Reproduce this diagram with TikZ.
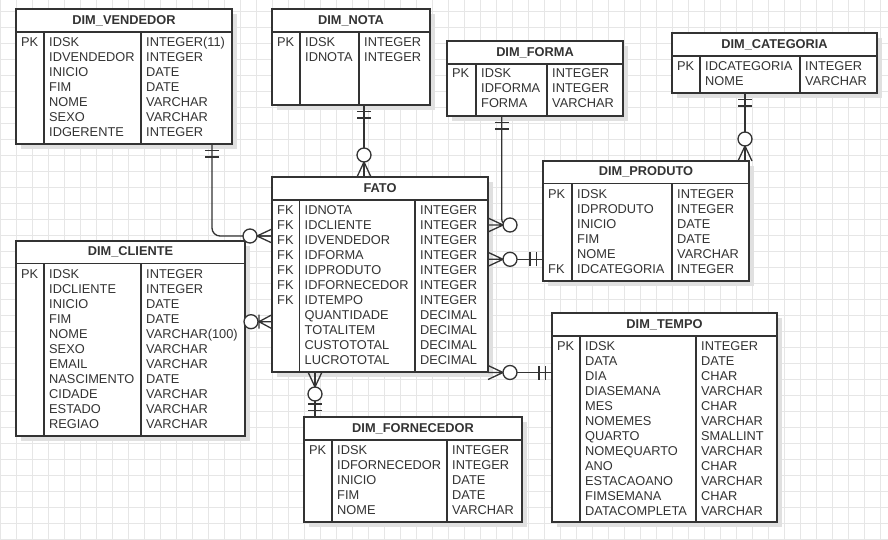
\documentclass[tikz,border=0pt]{standalone}
\usepackage{fontspec}
\setmainfont{Liberation Sans}
\usetikzlibrary{shadows,calc}

\definecolor{ink}{HTML}{333333}
\definecolor{gridc}{HTML}{E6E6E6}
\definecolor{shadowc}{HTML}{E0E0E0}

\tikzset{
  tblbox/.style={rectangle, draw=ink, line width=1.3pt, fill=white,
    inner sep=0pt, outer sep=0pt,
    drop shadow={shadow xshift=5pt, shadow yshift=-5pt, fill=shadowc, opacity=1}},
  tblline/.style={draw=ink, line width=1.3pt},
  titletext/.style={inner sep=0pt, text=ink, font=\fontsize{12.8}{15}\selectfont\bfseries},
  celltext/.style={anchor=base west, inner sep=0pt, text=ink, font=\fontsize{12.8}{15}\selectfont},
  conn/.style={draw=ink, line width=1.3pt},
  gridline/.style={draw=gridc, line width=0.8pt},
}

% table frame: name, left, top, right, bottom, header line y, first and second column x, title
\newcommand{\ertable}[9]{%
  \node[tblbox, anchor=north west, minimum width={(#4-#2)*1pt},
        minimum height={(#5-#3)*1pt}] (#1) at (#2,#3) {};
  \draw[tblline] (#2,#6) -- (#4,#6) (#7,#6) -- (#7,#5) (#8,#6) -- (#8,#5);
  \node[titletext] (#1-title) at ({(#2+#4)/2},{(#3+#6)/2}) {#9};
}
% one column of rows: name prefix, x, first baseline y, entries
\newcommand{\ercol}[4]{%
  \foreach \t [count=\i] in {#4} {
    \node[celltext] (#1-\i) at ({#2},{#3+15*(\i-1)}) {\t};
  }
}
% crow's foot with ring at a box point, pointing outward at the given angle
\newcommand{\manyend}[2]{%
  \begin{scope}[shift={#1}, rotate=#2]
    \draw[conn] (15,0) -- (0,7) (15,0) -- (0,-7) (15,0) -- (0,0);
    \draw[conn, fill=white] (22,0) circle[radius=7pt];
  \end{scope}
}
% two bars (exactly one) at a box point
\newcommand{\oneend}[2]{%
  \begin{scope}[shift={#1}, rotate=#2]
    \draw[conn] (6.5,-7) -- (6.5,7) (13,-7) -- (13,7);
  \end{scope}
}

\begin{document}
\begin{tikzpicture}[x=1pt, y=-1pt]
  \useasboundingbox (0,0) rectangle (888,540);
  \fill[white] (0,0) rectangle (888,540);

  % background grid
  \foreach \gx in {0.7,16.7,...,888} \draw[gridline] (\gx,0) -- (\gx,540);
  \foreach \gy in {11,27,...,540} \draw[gridline] (0,\gy) -- (888,\gy);

  % DIM_VENDEDOR
  \ertable{vend}{16}{9}{232}{144}{32}{44}{141}{DIM\_VENDEDOR}
  \node[celltext] (vend-pk) at (21,47) {PK};
  \ercol{vend-f}{49}{47}{IDSK,IDVENDEDOR,INICIO,FIM,NOME,SEXO,IDGERENTE}
  \ercol{vend-t}{146}{47}{INTEGER(11),INTEGER,DATE,DATE,VARCHAR,VARCHAR,INTEGER}

  % DIM_NOTA
  \ertable{nota}{272}{9}{430}{105}{32}{300}{359}{DIM\_NOTA}
  \node[celltext] (nota-pk) at (277,47) {PK};
  \ercol{nota-f}{305}{47}{IDSK,IDNOTA}
  \ercol{nota-t}{364}{47}{INTEGER,INTEGER}

  % DIM_FORMA
  \ertable{forma}{447}{41}{623}{116}{64}{476}{547}{DIM\_FORMA}
  \node[celltext] (forma-pk) at (452,78) {PK};
  \ercol{forma-f}{481}{78}{IDSK,IDFORMA,FORMA}
  \ercol{forma-t}{552}{78}{INTEGER,INTEGER,VARCHAR}

  % DIM_CATEGORIA
  \ertable{cat}{672}{33}{877}{93}{56}{700}{800}{DIM\_CATEGORIA}
  \node[celltext] (cat-pk) at (677,71) {PK};
  \ercol{cat-f}{705}{71}{IDCATEGORIA,NOME}
  \ercol{cat-t}{805}{71}{INTEGER,VARCHAR}

  % DIM_PRODUTO
  \ertable{prod}{543}{161}{749}{281}{183.5}{572}{672}{DIM\_PRODUTO}
  \node[celltext] (prod-pk) at (548,198.5) {PK};
  \node[celltext] (prod-fk) at (548,273.5) {FK};
  \ercol{prod-f}{577}{198.5}{IDSK,IDPRODUTO,INICIO,FIM,NOME,IDCATEGORIA}
  \ercol{prod-t}{677}{198.5}{INTEGER,INTEGER,DATE,DATE,VARCHAR,INTEGER}

  % FATO
  \ertable{fato}{272}{177}{488}{372}{200}{299.5}{415}{FATO}
  \ercol{fato-k}{277}{214.8}{FK,FK,FK,FK,FK,FK,FK}
  \ercol{fato-f}{304.5}{214.8}{IDNOTA,IDCLIENTE,IDVENDEDOR,IDFORMA,IDPRODUTO,IDFORNECEDOR,IDTEMPO,QUANTIDADE,TOTALITEM,CUSTOTOTAL,LUCROTOTAL}
  \ercol{fato-t}{420}{214.8}{INTEGER,INTEGER,INTEGER,INTEGER,INTEGER,INTEGER,INTEGER,DECIMAL,DECIMAL,DECIMAL,DECIMAL}

  % DIM_CLIENTE
  \ertable{cli}{16}{241}{245}{436}{263.5}{44}{141}{DIM\_CLIENTE}
  \node[celltext] (cli-pk) at (21,278.8) {PK};
  \ercol{cli-f}{49}{278.8}{IDSK,IDCLIENTE,INICIO,FIM,NOME,SEXO,EMAIL,NASCIMENTO,CIDADE,ESTADO,REGIAO}
  \ercol{cli-t}{146}{278.8}{INTEGER,INTEGER,DATE,DATE,VARCHAR(100),VARCHAR,VARCHAR,DATE,VARCHAR,VARCHAR,VARCHAR}

  % DIM_FORNECEDOR
  \ertable{forn}{304}{417}{522}{522}{440}{332}{447}{DIM\_FORNECEDOR}
  \node[celltext] (forn-pk) at (309,454.8) {PK};
  \ercol{forn-f}{337}{454.8}{IDSK,IDFORNECEDOR,INICIO,FIM,NOME}
  \ercol{forn-t}{452}{454.8}{INTEGER,INTEGER,DATE,DATE,VARCHAR}

  % DIM_TEMPO
  \ertable{tempo}{552}{313}{777}{522}{336}{580}{696}{DIM\_TEMPO}
  \node[celltext] (tempo-pk) at (557,350.8) {PK};
  \ercol{tempo-f}{585}{350.8}{IDSK,DATA,DIA,DIASEMANA,MES,NOMEMES,QUARTO,NOMEQUARTO,ANO,ESTACAOANO,FIMSEMANA,DATACOMPLETA}
  \ercol{tempo-t}{701}{350.8}{INTEGER,DATE,CHAR,VARCHAR,CHAR,VARCHAR,SMALLINT,VARCHAR,CHAR,VARCHAR,CHAR,VARCHAR}

  % relationships
  \draw[conn, rounded corners=8pt] (vend.south -| 212,0) |- (fato.west |- 0,236);
  \draw[conn] (cli.east |- 0,321.7) -- (fato.west |- 0,321.7);
  \draw[conn] (nota.south -| 364,0) -- (fato.north -| 364,0);
  \draw[conn, rounded corners=6pt] (forma.south -| 501.7,0) |- ($(fato.east |- 0,225)+(22,0)$);
  \draw[conn] (fato.east |- 0,259.3) -- (prod.west |- 0,259.3);
  \draw[conn] (cat.south -| 745,0) -- (prod.north -| 745,0);
  \draw[conn] (fato.east |- 0,372.5) -- (tempo.west |- 0,372.5);
  \draw[conn] (fato.south -| 315,0) -- (forn.north -| 315,0);

  % relationship ends
  \manyend{(fato.west |- 0,236)}{180}
  \oneend{(vend.south -| 212,0)}{-90}
  \begin{scope}[shift={(fato.west |- 0,321.7)}, rotate=180]
    \draw[conn] (13,0) -- (0,7) (13,0) -- (0,-7) (13,0) -- (0,0) (13,-7) -- (13,7);
    \draw[conn, fill=white] (21,0) circle[radius=7pt];
  \end{scope}
  \manyend{(fato.north -| 364,0)}{90}
  \oneend{(nota.south -| 364,0)}{-90}
  \manyend{(fato.east |- 0,225)}{0}
  \oneend{(forma.south -| 501.7,0)}{-90}
  \manyend{(fato.east |- 0,259.3)}{0}
  \oneend{(prod.west |- 0,259.3)}{180}
  \manyend{(prod.north -| 745,0)}{90}
  \oneend{(cat.south -| 745,0)}{-90}
  \manyend{(fato.east |- 0,372.5)}{0}
  \oneend{(tempo.west |- 0,372.5)}{180}
  \manyend{(fato.south -| 315,0)}{-90}
  \oneend{(forn.north -| 315,0)}{90}
\end{tikzpicture}
\end{document}
